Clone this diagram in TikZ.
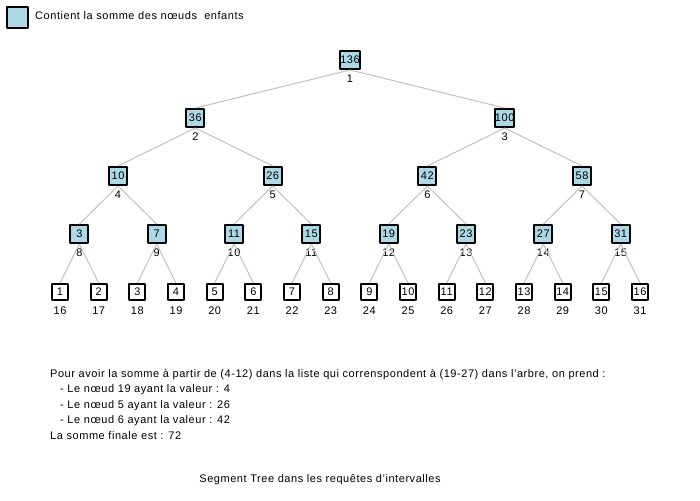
\documentclass[tikz,border=0pt]{standalone}
\usepackage{fontspec}
\setmainfont{Liberation Sans}[LetterSpace=5]
\definecolor{sumfill}{HTML}{ADD8E6}
\definecolor{edgegray}{HTML}{C0C0C0}
\tikzset{fig/.style={x=1pt,y=-1pt,line join=round},
 sumbox/.style={draw=black,line width=2pt,fill=sumfill,minimum size=18pt,inner sep=0pt},
 leafbox/.style={draw=black,line width=2pt,fill=white,minimum size=16pt,inner sep=0pt},
 idx/.style={inner sep=0pt},
 txt/.style={anchor=west,inner sep=0pt},
 link/.style={edgegray,line width=1pt}}

\begin{document}
\begin{tikzpicture}[fig,font=\fontsize{11}{13}\selectfont]
 \useasboundingbox (0,0) rectangle (700,500);
 % legend
 \node[sumbox,minimum size=21pt] (key) at (17.5,18) {};
 \node[txt] (keytxt) at (35,16) {Contient la somme des nœuds\ \ enfants};
 % tree, heap numbering
 \foreach \i/\v/\d in {1/136/0,2/36/1,3/100/1,4/10/2,5/26/2,6/42/2,7/58/2,
   8/3/3,9/7/3,10/11/3,11/15/3,12/19/3,13/23/3,14/27/3,15/31/3,
   16/1/4,17/2/4,18/3/4,19/4/4,20/5/4,21/6/4,22/7/4,23/8/4,
   24/9/4,25/10/4,26/11/4,27/12/4,28/13/4,29/14/4,30/15/4,31/16/4}{
  \pgfmathsetmacro\w{2^(4-\d)}
  \pgfmathsetmacro\x{60+38.67*(\i*\w-16+(\w-1)/2)}
  \pgfmathsetmacro\y{60+58*\d}
  \ifnum\d=4 \node[leafbox] (n\i) at (\x,\y) {\v};
  \else \node[sumbox] (n\i) at (\x,\y) {\v};\fi
  \node[idx] (l\i) at (\x,\y+19) {\i};
 }
 \foreach \i in {2,...,31}{
  \pgfmathtruncatemacro\p{div(\i,2)}
  \draw[link] (n\p.south) -- (n\i.north);
 }
 % explanation
 \node[txt] (t1) at (50,375) {Pour avoir la somme à partir de (4-12) dans la liste qui correnspondent à (19-27) dans l'arbre, on prend :};
 \node[txt] (t2) at (60,390) {- Le nœud 19 ayant la valeur : 4};
 \node[txt] (t3) at (60,406) {- Le nœud 5 ayant la valeur : 26};
 \node[txt] (t4) at (60,421) {- Le nœud 6 ayant la valeur : 42};
 \node[txt] (t5) at (50,436) {La somme finale est : 72};
 \node (cap) at (320,480) {Segment Tree dans les requêtes d'intervalles};
\end{tikzpicture}
\end{document}
